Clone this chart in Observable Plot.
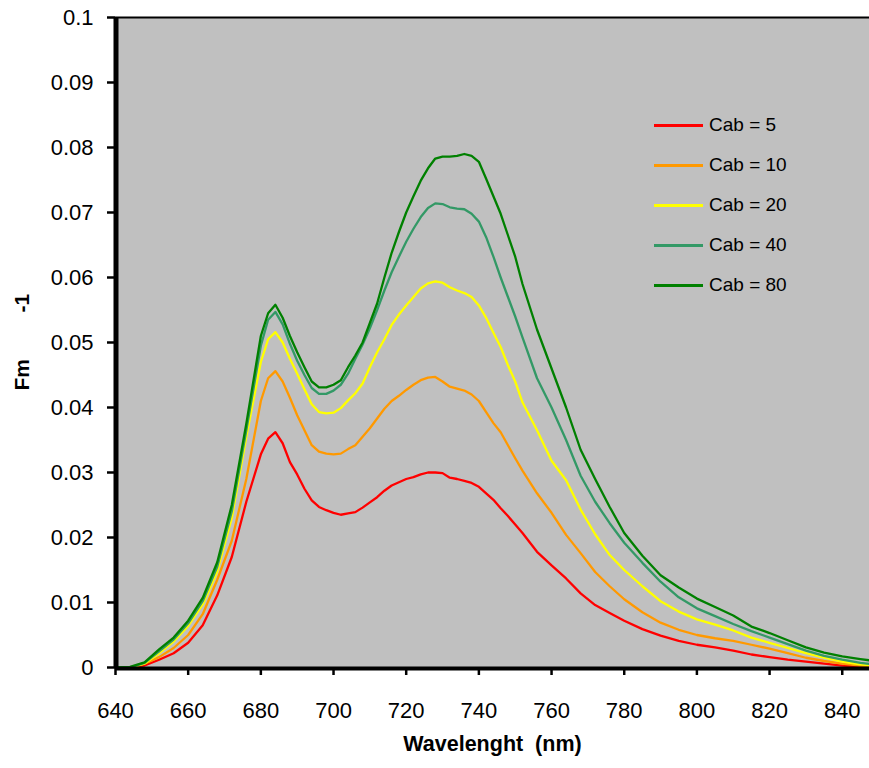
<!DOCTYPE html>
<html><head><meta charset="utf-8">
<script src="https://cdn.jsdelivr.net/npm/d3@7"></script>
<script src="https://cdn.jsdelivr.net/npm/@observablehq/plot@0.6"></script>
<style>
body{margin:0;background:#fff;font-family:"Liberation Sans",Arial,sans-serif;}
#wrap{position:relative;width:869px;height:768px;overflow:hidden;}
#legend{position:absolute;left:654px;top:0;}
.item{position:absolute;left:0;height:24px;display:flex;align-items:center;white-space:nowrap;font-size:19px;color:#000;}
.swatch{width:49px;height:3px;margin-right:6px;}
</style></head><body><div id="wrap"></div>
<script>
const wavelengths = [640,644,648,652,656,660,664,668,672,676,680,682,684,686,688,690,692,694,696,698,700,702,704,706,708,710,712,714,716,718,720,722,724,726,728,730,732,734,736,738,740,742,744,746,748,750,752,756,760,764,768,772,776,780,785,790,795,800,805,810,815,820,825,830,835,840,845,850];

const cab5 = [0,0,0.0003,0.0012,0.0022,0.0038,0.0065,0.0111,0.0170,0.0255,0.0328,0.0352,0.0362,0.0345,0.0316,0.0297,0.0275,0.0257,0.0247,0.0242,0.0238,0.0235,0.0237,0.0239,0.0246,0.0254,0.0262,0.0272,0.0280,0.0285,0.0290,0.0293,0.0297,0.0300,0.0300,0.0299,0.0292,0.0290,0.0287,0.0284,0.0278,0.0268,0.0258,0.0245,0.0233,0.0220,0.0207,0.0178,0.0157,0.0137,0.0114,0.0096,0.0084,0.0072,0.0059,0.0049,0.0041,0.0035,0.0031,0.0026,0.0020,0.0016,0.0012,0.0009,0.0006,0.0003,0.0001,0];

const cab10 = [0,0,0.0006,0.0016,0.0030,0.0050,0.0082,0.0135,0.0195,0.0290,0.0410,0.0445,0.0456,0.0440,0.0415,0.0388,0.0365,0.0342,0.0332,0.0329,0.0328,0.0329,0.0336,0.0342,0.0355,0.0368,0.0383,0.0398,0.0410,0.0418,0.0427,0.0435,0.0442,0.0446,0.0447,0.0440,0.0432,0.0429,0.0426,0.0420,0.0410,0.0393,0.0376,0.0362,0.0342,0.0322,0.0303,0.0268,0.0238,0.0204,0.0176,0.0147,0.0125,0.0105,0.0085,0.0069,0.0058,0.0050,0.0045,0.0041,0.0035,0.0029,0.0022,0.0015,0.0010,0.0006,0.0003,0.0001];

const cab20 = [0,0,0.0006,0.0022,0.0040,0.0064,0.0097,0.0148,0.0230,0.0355,0.0470,0.0505,0.0516,0.0500,0.0475,0.0452,0.0428,0.0405,0.0393,0.0391,0.0392,0.0399,0.0411,0.0422,0.0437,0.0462,0.0485,0.0505,0.0527,0.0543,0.0557,0.0570,0.0583,0.0591,0.0594,0.0592,0.0585,0.0580,0.0576,0.0570,0.0557,0.0538,0.0515,0.0493,0.0465,0.0440,0.0408,0.0365,0.0318,0.0288,0.0243,0.0205,0.0173,0.0150,0.0125,0.0102,0.0086,0.0074,0.0066,0.0057,0.0046,0.0038,0.0030,0.0022,0.0015,0.0009,0.0005,0.0002];

const cab40 = [0,0,0.0007,0.0025,0.0043,0.0068,0.0102,0.0155,0.0240,0.0365,0.0495,0.0535,0.0547,0.0528,0.0498,0.0472,0.0450,0.0430,0.0421,0.0421,0.0426,0.0435,0.0452,0.0475,0.0497,0.0522,0.0550,0.0580,0.0608,0.0632,0.0655,0.0675,0.0693,0.0707,0.0714,0.0713,0.0708,0.0706,0.0705,0.0698,0.0686,0.0662,0.0632,0.0600,0.0570,0.0540,0.0508,0.0445,0.0400,0.0350,0.0295,0.0255,0.0222,0.0192,0.0161,0.0132,0.0108,0.0091,0.0079,0.0067,0.0056,0.0046,0.0036,0.0026,0.0018,0.0012,0.0007,0.0004];

const cab80 = [0,0.0001,0.0008,0.0028,0.0046,0.0072,0.0107,0.0162,0.0250,0.0375,0.0510,0.0545,0.0558,0.0538,0.0510,0.0485,0.0462,0.0440,0.0431,0.0431,0.0435,0.0442,0.0462,0.0480,0.0500,0.0530,0.0560,0.0600,0.0638,0.0670,0.0700,0.0725,0.0749,0.0768,0.0783,0.0786,0.0786,0.0787,0.0790,0.0787,0.0778,0.0752,0.0725,0.0698,0.0665,0.0632,0.0590,0.0520,0.0460,0.0400,0.0335,0.0290,0.0247,0.0207,0.0172,0.0142,0.0123,0.0106,0.0093,0.0080,0.0063,0.0053,0.0042,0.0031,0.0023,0.0017,0.0013,0.0009];

const seriesNames = ["Cab = 5", "Cab = 10", "Cab = 20", "Cab = 40", "Cab = 80"];
const seriesColors = ["#ff0000", "#ff9900", "#ffff00", "#339966", "#008000"];
const seriesValues = [cab5, cab10, cab20, cab40, cab80];
const xTicks = [640, 660, 680, 700, 720, 740, 760, 780, 800, 820, 840];
const yTicks = [0, 0.01, 0.02, 0.03, 0.04, 0.05, 0.06, 0.07, 0.08, 0.09, 0.1];

const rows = [];
seriesValues.forEach((vals, i) => vals.forEach((v, j) => rows.push({wl: wavelengths[j], v, s: seriesNames[i]})));

const plot = Plot.plot({
  width: 869, height: 768,
  marginTop: 17, marginLeft: 115, marginRight: 0, marginBottom: 101,
  style: {fontFamily: "'Liberation Sans', Arial, sans-serif", fontSize: "22px", background: "white", color: "#000"},
  x: {domain: [640, 847.5]},
  y: {domain: [0, 0.1]},
  color: {domain: seriesNames, range: seriesColors},
  marks: [
    Plot.frame({fill: "#c0c0c0", stroke: null}),
    Plot.lineY(rows, {x: "wl", y: "v", z: "s", stroke: "s", strokeWidth: 2.3, clip: true}),
    Plot.ruleY([0.1], {stroke: "#000", strokeWidth: 2}),
    Plot.axisX({ticks: xTicks, tickFormat: d => String(d), tickSize: 8, tickPadding: 27, strokeWidth: 2.5, label: null, fontSize: 22}),
    Plot.axisY({ticks: yTicks, tickFormat: d => String(+d.toFixed(2)), tickSize: 8, tickPadding: 14, strokeWidth: 2.5, label: null, fontSize: 22}),
    Plot.ruleX([640], {stroke: "#000", strokeWidth: 5, dx: 0.5}),
    Plot.ruleY([0], {stroke: "#000", strokeWidth: 4, dy: 1}),
    Plot.text(["Wavelenght \u00a0(nm)"], {frameAnchor: "bottom", dy: 83, fontWeight: "bold", fontSize: 21.5}),
    Plot.text(["Fm"], {frameAnchor: "left", dx: -93, dy: 48, rotate: -90, fontWeight: "bold", fontSize: 21}),
    Plot.text(["-1"], {frameAnchor: "left", dx: -93, dy: -30, rotate: -90, fontWeight: "bold", fontSize: 21})
  ]
});

const wrap = document.getElementById("wrap");
wrap.appendChild(plot);

const legend = document.createElement("div");
legend.id = "legend";
const legendY = [125, 165, 205, 245, 285];
seriesNames.forEach((name, i) => {
  const item = document.createElement("div");
  item.className = "item";
  item.style.top = (legendY[i] - 12) + "px";
  const sw = document.createElement("span");
  sw.className = "swatch";
  sw.style.background = seriesColors[i];
  const tx = document.createElement("span");
  tx.textContent = name;
  item.appendChild(sw);
  item.appendChild(tx);
  legend.appendChild(item);
});
wrap.appendChild(legend);
</script>
</body></html>
